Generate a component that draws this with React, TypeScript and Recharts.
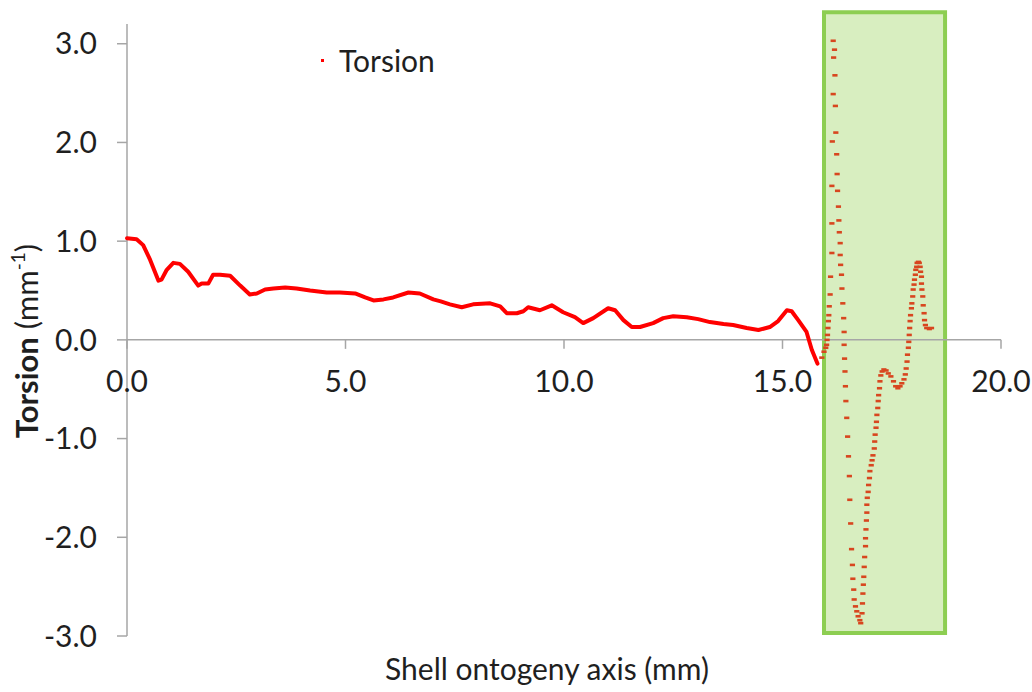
import React from 'react';
import {
  ScatterChart,
  Scatter,
  XAxis,
  YAxis,
  ReferenceLine,
  ReferenceArea,
  ReferenceDot,
  Legend,
} from 'recharts';

// Torsion along the shell ontogeny axis, smooth part (0 – 15.8 mm)
const trunkAxis = [
  0.0, 0.22, 0.37, 0.53, 0.72, 0.79, 0.91, 1.06, 1.21, 1.4, 1.63, 1.71, 1.86, 1.97, 2.13, 2.36,
  2.59, 2.81, 2.97, 3.16, 3.35, 3.62, 3.88, 4.19, 4.57, 4.87, 5.22, 5.45, 5.64, 5.87, 6.09, 6.44,
  6.7, 7.01, 7.18, 7.39, 7.66, 7.92, 8.31, 8.54, 8.69, 8.92, 9.07, 9.18, 9.45, 9.72, 9.98, 10.25,
  10.44, 10.67, 11.01, 11.17, 11.36, 11.55, 11.74, 12.04, 12.27, 12.5, 12.81, 13.07, 13.34, 13.65,
  13.87, 14.18, 14.45, 14.71, 14.9, 15.1, 15.21, 15.36, 15.55, 15.67, 15.8,
];
const trunkTorsion = [
  1.03, 1.02, 0.96, 0.81, 0.6, 0.61, 0.71, 0.78, 0.77, 0.69, 0.55, 0.57, 0.57, 0.66, 0.66, 0.65,
  0.55, 0.46, 0.47, 0.51, 0.52, 0.53, 0.52, 0.5, 0.48, 0.48, 0.47, 0.43, 0.4, 0.41, 0.43, 0.48,
  0.47, 0.41, 0.39, 0.36, 0.33, 0.36, 0.37, 0.34, 0.27, 0.27, 0.29, 0.33, 0.3, 0.35, 0.28, 0.23,
  0.17, 0.22, 0.32, 0.3, 0.2, 0.13, 0.13, 0.17, 0.22, 0.24, 0.23, 0.21, 0.18, 0.16,
  0.15, 0.12, 0.1, 0.13, 0.19, 0.3, 0.29, 0.2, 0.08, -0.1, -0.24,
];

// Apertural part (15.9 – 18.4 mm), individual samples
const apertureAxis = [
  15.9, 15.95, 15.99, 16.01, 16.02, 16.03, 16.04, 16.05, 16.06, 16.07, 16.09, 16.1, 16.13, 16.13,
  16.13, 16.14, 16.16, 16.17, 16.16, 16.19, 16.2, 16.21, 16.22, 16.24, 16.25, 16.26, 16.28, 16.29,
  16.3, 16.32, 16.32, 16.33, 16.35, 16.36, 16.38, 16.4, 16.41, 16.41, 16.42, 16.43, 16.44, 16.45,
  16.47, 16.49, 16.51, 16.53, 16.54, 16.56, 16.58, 16.6, 16.61, 16.63, 16.64, 16.67, 16.7, 16.73,
  16.77, 16.79, 16.82, 16.83, 16.84, 16.85, 16.86, 16.87, 16.88, 16.9, 16.9, 16.91, 16.92, 16.93,
  16.93, 16.94, 16.96, 16.97, 16.99, 17.0, 17.03, 17.05, 17.07, 17.1, 17.11, 17.12, 17.14, 17.15,
  17.16, 17.18, 17.19, 17.2, 17.22, 17.23, 17.25, 17.28, 17.32, 17.37, 17.42, 17.48, 17.54, 17.59,
  17.64, 17.69, 17.73, 17.78, 17.81, 17.83, 17.85, 17.86, 17.88, 17.89, 17.9, 17.91, 17.92, 17.93,
  17.95, 17.96, 17.98, 17.99, 18.01, 18.02, 18.04, 18.05, 18.07, 18.08, 18.11, 18.13, 18.15, 18.16,
  18.18, 18.18, 18.19, 18.21, 18.22, 18.24, 18.25, 18.27, 18.3, 18.36, 18.41,
];
const apertureTorsion = [
  -0.18, -0.12, -0.08, -0.05, 0.0, 0.05, 0.12, 0.19, 0.25, 0.34, 0.46, 0.64, 0.88, 1.18,
  1.56, 2.01, 2.49, 2.86, 3.03, 2.94, 2.68, 2.37, 2.1, 1.88, 1.68, 1.51, 1.35, 1.21,
  1.09, 0.98, 0.86, 0.76, 0.66, 0.52, 0.37, 0.22, 0.08, -0.05, -0.19, -0.32, -0.47, -0.62,
  -0.79, -0.98, -1.18, -1.38, -1.62, -1.86, -2.12, -2.28, -2.42, -2.53, -2.63, -2.7, -2.75, -2.8,
  -2.84, -2.87, -2.77, -2.67, -2.57, -2.48, -2.4, -2.3, -2.2, -2.09, -2.01, -1.92, -1.83, -1.75,
  -1.67, -1.6, -1.54, -1.47, -1.4, -1.33, -1.27, -1.22, -1.17, -1.1, -1.03, -0.96, -0.89, -0.83,
  -0.76, -0.69, -0.62, -0.56, -0.49, -0.42, -0.36, -0.32, -0.3, -0.31, -0.34, -0.37, -0.42, -0.47,
  -0.49, -0.47, -0.44, -0.4, -0.35, -0.29, -0.22, -0.15, -0.08, -0.02, 0.05, 0.12, 0.19, 0.25,
  0.32, 0.37, 0.44, 0.51, 0.56, 0.61, 0.66, 0.71, 0.74, 0.78, 0.79, 0.78, 0.74, 0.69,
  0.64, 0.57, 0.51, 0.44, 0.35, 0.27, 0.2, 0.15, 0.12, 0.11, 0.12,
];

const xTicks = [0, 5, 10, 15, 20];
const yTicks = [-3, -2, -1, 0, 1, 2, 3];

// Highlighted apertural region
const highlightAxis = [15.95, 18.72];
const highlightTorsion = [-2.97, 3.32];

const trunkData = trunkAxis.map((x, i) => ({ x, y: trunkTorsion[i] }));
const apertureData = apertureAxis.map((x, i) => ({ x, y: apertureTorsion[i] }));

const FONT = 'Lato, "Open Sans", sans-serif';
const TEXT = '#1f1f1f';
const AXIS = '#a6a6a6';
const RED = '#ff0000';
// red samples as seen through the green highlight
const SAMPLE = '#d8461f';

const fmt = (v: number) => v.toFixed(1);

const SampleMark = (props: any) => {
  const { cx, cy } = props;
  if (cx == null || cy == null) return <g />;
  return <rect x={cx - 2.6} y={cy - 1.3} width={5.2} height={2.6} fill={SAMPLE} />;
};

const NoMark = () => <g />;

// Tick mark + label hung from the zero line
const makeXTick = (value: number) => (props: any) => {
  const { cx, cy } = props;
  return (
    <g>
      <line x1={cx} y1={cy} x2={cx} y2={cy + 9} stroke={AXIS} strokeWidth={1.5} />
      <text
        x={cx}
        y={cy + 40}
        textAnchor="middle"
        dominantBaseline="central"
        fontFamily={FONT}
        fontSize={30}
        fill={TEXT}
      >
        {fmt(value)}
      </text>
    </g>
  );
};

const YTitle = (props: any) => {
  const vb = props.viewBox || { x: 0, y: 0, width: 0, height: 0 };
  const x = vb.x + 38;
  const y = vb.y + vb.height / 2 + 11;
  return (
    <text
      x={x}
      y={y}
      transform={`rotate(-90, ${x}, ${y})`}
      textAnchor="middle"
      fontFamily={FONT}
      fontSize={31}
      fill={TEXT}
    >
      <tspan fontWeight="bold">Torsion</tspan>
      <tspan> (mm</tspan>
      <tspan fontSize={19} dy={-13}>-1</tspan>
      <tspan dy={13}>)</tspan>
    </text>
  );
};

const XTitle = (props: any) => {
  const vb = props.viewBox || { x: 0, y: 0, width: 0, height: 0 };
  return (
    <text
      x={vb.x + vb.width / 2 - 17}
      y={vb.y + 32}
      textAnchor="middle"
      dominantBaseline="central"
      fontFamily={FONT}
      fontSize={30}
      fill={TEXT}
    >
      Shell ontogeny axis (mm)
    </text>
  );
};

const LegendBox = (props: any) => {
  const item = (props.payload || [])[0];
  return (
    <div
      style={{
        display: 'flex',
        alignItems: 'center',
        fontFamily: FONT,
        fontSize: 30,
        lineHeight: '34px',
        color: TEXT,
        whiteSpace: 'nowrap',
      }}
    >
      <span style={{ display: 'inline-block', width: 3, height: 3, background: RED, marginRight: 15 }} />
      {item ? item.value : 'Torsion'}
    </div>
  );
};

export default function App() {
  return (
    <div style={{ position: 'absolute', left: 0, top: 0, width: 1032, height: 692, background: '#fff' }}>
      <ScatterChart width={1032} height={692} margin={{ top: 24, right: 31, bottom: 0, left: 0 }}>
        <XAxis
          type="number"
          dataKey="x"
          domain={[0, 20]}
          ticks={xTicks}
          tick={false}
          tickLine={false}
          axisLine={false}
          height={56}
          label={{ content: XTitle }}
        />
        <YAxis
          type="number"
          dataKey="y"
          domain={[-3, 3.2]}
          ticks={yTicks}
          interval={0}
          allowDataOverflow
          width={127}
          tickFormatter={fmt}
          tickSize={10}
          tickMargin={20}
          axisLine={{ stroke: AXIS, strokeWidth: 1.5 }}
          tickLine={{ stroke: AXIS, strokeWidth: 1.5 }}
          tick={{ fontFamily: FONT, fontSize: 30, fill: TEXT }}
          label={{ content: YTitle }}
        />
        <ReferenceLine y={0} stroke={AXIS} strokeWidth={1.5} />
        <Legend
          layout="horizontal"
          align="center"
          verticalAlign="middle"
          content={LegendBox}
          wrapperStyle={{ left: 321, top: 43, width: 'auto', height: 'auto' }}
        />
        <Scatter
          name="Torsion"
          data={trunkData}
          fill={RED}
          shape={NoMark}
          line={{ stroke: RED, strokeWidth: 4, strokeLinejoin: 'round', strokeLinecap: 'round' }}
          isAnimationActive={false}
        />
        <Scatter
          name="Torsion (aperture)"
          data={apertureData}
          fill={SAMPLE}
          shape={SampleMark}
          legendType="none"
          isAnimationActive={false}
        />
        <ReferenceArea
          x1={highlightAxis[0]}
          x2={highlightAxis[1]}
          y1={highlightTorsion[0]}
          y2={highlightTorsion[1]}
          ifOverflow="visible"
          fill="#92d050"
          fillOpacity={0.36}
          stroke="#8dce52"
          strokeWidth={4}
        />
        {xTicks.map((t) => (
          <ReferenceDot key={t} x={t} y={0} r={0} ifOverflow="visible" shape={makeXTick(t)} />
        ))}
      </ScatterChart>
    </div>
  );
}
